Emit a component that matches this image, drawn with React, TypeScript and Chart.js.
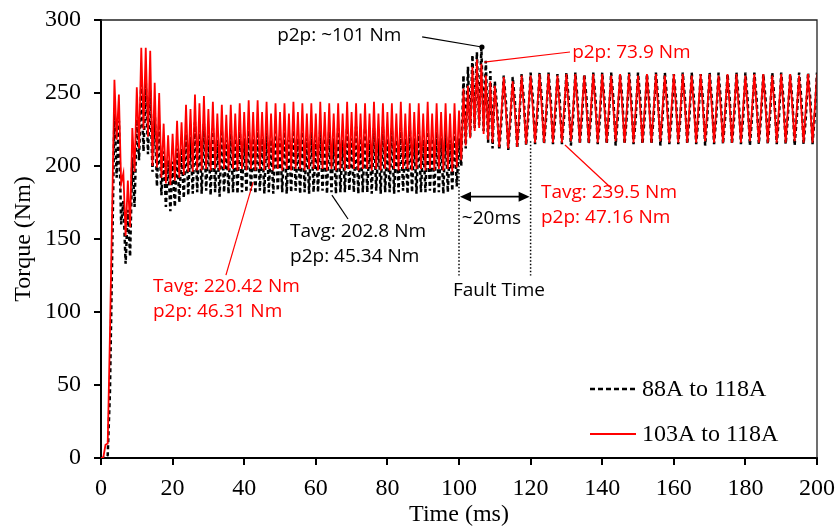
import React, { useEffect, useRef } from 'react';
import { Chart, registerables } from 'chart.js';

Chart.register(...registerables);

// ---------- data ----------
const SAMPLE_STEP_MS = 0.625;
const X_MIN = 0;
const X_MAX = 200;
const X_STEP = 20;
const Y_MIN = 0;
const Y_MAX = 300;
const Y_STEP = 50;

const SERIES_LABELS = ['88A to 118A', '103A to 118A'];

// 103A to 118A (red): 0 - 19.4 ms
const RED_STARTUP = [
  0, 0, 9, 10, 85, 170, 259, 218,
  249, 188, 195, 152, 190, 158, 226, 196,
  254, 212, 281, 225, 281, 220, 279, 200,
  257, 199, 250, 192, 229, 188, 221, 187,
];
// 20 - 99.4 ms
const RED_STEADY = [
  222, 190, 231, 192, 230, 194, 242, 196,
  239, 196, 249, 197, 243, 197, 248, 198,
  239, 197, 244, 198, 236, 197, 242, 198,
  235, 197, 242, 198, 236, 197, 243, 198,
  237, 197, 245, 198, 237, 197, 245, 198,
  237, 197, 244, 198, 236, 197, 243, 198,
  237, 197, 243, 198, 236, 197, 244, 198,
  237, 198, 243, 197, 236, 198, 243, 198,
  236, 197, 244, 198, 237, 197, 243, 198,
  236, 197, 243, 198, 236, 197, 244, 198,
  237, 198, 243, 197, 236, 198, 243, 198,
  236, 197, 244, 198, 236, 197, 243, 198,
  237, 197, 243, 198, 236, 197, 244, 198,
  236, 198, 243, 197, 237, 198, 243, 198,
  236, 197, 244, 198, 236, 197, 243, 198,
  237, 197, 243, 198, 236, 196, 243, 199,
];
// 100 - 200 ms
const RED_FAULT = [
  238, 204, 253, 214, 255, 219, 268, 224,
  273, 226, 270, 222, 262, 218, 258, 216,
  255, 235, 213, 237, 261, 237, 212, 236,
  258, 237, 213, 238, 262, 239, 215, 239,
  262, 239, 216, 240, 263, 240, 216, 239,
  263, 240, 216, 240, 262, 239, 216, 240,
  263, 240, 217, 239, 263, 240, 216, 240,
  262, 239, 216, 240, 263, 240, 216, 239,
  263, 240, 216, 240, 262, 239, 217, 240,
  263, 240, 216, 239, 263, 240, 216, 240,
  262, 239, 216, 240, 263, 240, 216, 239,
  263, 240, 217, 240, 262, 239, 216, 240,
  263, 240, 216, 239, 263, 240, 216, 240,
  262, 239, 216, 240, 263, 240, 217, 239,
  263, 240, 216, 240, 262, 239, 216, 240,
  263, 240, 216, 239, 263, 240, 216, 240,
  262, 239, 217, 240, 263, 240, 216, 239,
  263, 240, 216, 240, 262, 239, 216, 240,
  263, 240, 216, 239, 263, 240, 217, 240,
  262, 239, 216, 240, 263, 240, 216, 239,
  263,
];

// 88A to 118A (black dashed): 0 - 19.4 ms
const BLACK_STARTUP = [
  0, 0, 0, 2, 45, 140, 236, 192,
  231, 160, 176, 133, 170, 138, 206, 172,
  232, 204, 256, 210, 258, 208, 252, 196,
  238, 186, 229, 180, 210, 172, 204, 169,
];
// 20 - 99.4 ms
const BLACK_STEADY = [
  203, 172, 212, 175, 212, 178, 222, 180,
  220, 181, 230, 182, 225, 181, 229, 183,
  221, 180, 226, 182, 218, 179, 225, 182,
  218, 181, 225, 182, 219, 181, 226, 182,
  219, 182, 227, 183, 219, 181, 226, 183,
  219, 181, 226, 182, 218, 181, 226, 183,
  219, 182, 226, 181, 218, 182, 227, 183,
  219, 181, 226, 182, 219, 181, 226, 182,
  218, 182, 227, 183, 219, 181, 226, 182,
  219, 181, 226, 182, 218, 182, 226, 183,
  219, 182, 227, 181, 219, 182, 226, 182,
  218, 181, 226, 183, 219, 181, 227, 182,
  219, 182, 226, 181, 218, 182, 226, 183,
  219, 181, 227, 182, 219, 181, 226, 182,
  218, 182, 226, 183, 219, 181, 226, 182,
  219, 181, 227, 182, 218, 183, 226, 186,
];
// 100 - 200 ms
const BLACK_FAULT = [
  219, 200, 262, 212, 268, 220, 276, 226,
  278, 228, 281, 224, 272, 216, 265, 212,
  258, 240, 211, 232, 262, 243, 211, 231,
  261, 244, 212, 233, 263, 245, 214, 234,
  264, 246, 215, 234, 264, 246, 215, 234,
  264, 246, 215, 233, 263, 246, 215, 234,
  264, 246, 214, 234, 264, 245, 215, 234,
  263, 246, 215, 234, 264, 246, 215, 233,
  264, 245, 215, 234, 264, 246, 214, 234,
  263, 246, 215, 234, 264, 246, 215, 233,
  264, 246, 215, 234, 263, 245, 215, 234,
  264, 246, 214, 234, 264, 246, 215, 233,
  263, 245, 215, 234, 264, 246, 215, 234,
  264, 246, 215, 233, 263, 246, 214, 234,
  264, 246, 215, 234, 264, 245, 215, 234,
  263, 246, 215, 234, 264, 246, 215, 233,
  264, 245, 214, 234, 264, 246, 215, 234,
  263, 246, 215, 234, 264, 246, 215, 233,
  264, 246, 215, 234, 263, 245, 214, 234,
  264, 246, 215, 233, 264, 246, 215, 234,
  264,
];

const RED_VALUES = [...RED_STARTUP, ...RED_STEADY, ...RED_FAULT];
const BLACK_VALUES = [...BLACK_STARTUP, ...BLACK_STEADY, ...BLACK_FAULT];

// ---------- annotations (placed in data units) ----------
const RED = '#ff0000';
const BLACK = '#000000';

const NOTE_TEXTS = [
  { text: 'p2p: ~101 Nm', t: 49.2, v: 289.0, color: BLACK },
  { text: 'p2p: 73.9 Nm', t: 131.6, v: 277.4, color: RED },
  { text: 'Tavg: 202.8 Nm', t: 52.8, v: 154.8, color: BLACK },
  { text: 'p2p: 45.34 Nm', t: 52.8, v: 137.7, color: BLACK },
  { text: 'Tavg: 220.42 Nm', t: 14.5, v: 117.1, color: RED },
  { text: 'p2p: 46.31 Nm', t: 14.5, v: 100.0, color: RED },
  { text: 'Tavg: 239.5 Nm', t: 122.9, v: 181.5, color: RED },
  { text: 'p2p: 47.16 Nm', t: 122.9, v: 164.4, color: RED },
  { text: '~20ms', t: 100.8, v: 163.7, color: BLACK },
  { text: 'Fault Time', t: 98.3, v: 114.4, color: BLACK },
];

const LEADERS = [
  { from: [89.7, 288.4], to: [106.4, 281.5], color: BLACK, dot: true },
  { from: [107.0, 271.2], to: [131.0, 278.1], color: RED, dot: false },
  { from: [64.5, 180.1], to: [69.0, 163.7], color: BLACK, dot: false },
  { from: [42.5, 189.0], to: [34.9, 125.3], color: RED, dot: false },
  { from: [129.6, 214.4], to: [142.2, 185.6], color: RED, dot: false },
];

const FAULT_START = 100;
const FAULT_END = 120;
const FAULT_LINE_TOP = 217;
const FAULT_LINE_BOTTOM = 125;
const ARROW_LEVEL = 179;

const NOTE_FONT = '19px "Open Sans"';
const SERIF = '"Liberation Serif", "Times New Roman", serif';

const notesPlugin = {
  id: 'notes',
  beforeDatasetsDraw(chart: any) {
    const { ctx, scales } = chart;
    const xs = scales.x;
    const ys = scales.y;
    ctx.save();
    ctx.strokeStyle = BLACK;
    ctx.lineWidth = 1.5;
    ctx.setLineDash([1.5, 2]);
    [FAULT_START, FAULT_END].forEach((t) => {
      const x = xs.getPixelForValue(t);
      ctx.beginPath();
      ctx.moveTo(x, ys.getPixelForValue(FAULT_LINE_TOP));
      ctx.lineTo(x, ys.getPixelForValue(FAULT_LINE_BOTTOM));
      ctx.stroke();
    });
    ctx.restore();
  },
  afterDatasetsDraw(chart: any) {
    const { ctx, scales, chartArea } = chart;
    const xs = scales.x;
    const ys = scales.y;
    ctx.save();

    // frame (top & right)
    ctx.strokeStyle = '#222';
    ctx.lineWidth = 1.3;
    ctx.beginPath();
    ctx.moveTo(chartArea.left, chartArea.top);
    ctx.lineTo(chartArea.right, chartArea.top);
    ctx.lineTo(chartArea.right, chartArea.bottom);
    ctx.stroke();

    // leader lines
    LEADERS.forEach((l) => {
      const x1 = xs.getPixelForValue(l.from[0]);
      const y1 = ys.getPixelForValue(l.from[1]);
      const x2 = xs.getPixelForValue(l.to[0]);
      const y2 = ys.getPixelForValue(l.to[1]);
      ctx.strokeStyle = l.color;
      ctx.lineWidth = 1.2;
      ctx.beginPath();
      ctx.moveTo(x1, y1);
      ctx.lineTo(x2, y2);
      ctx.stroke();
      if (l.dot) {
        ctx.fillStyle = l.color;
        ctx.beginPath();
        ctx.arc(x2, y2, 2.6, 0, Math.PI * 2);
        ctx.fill();
      }
    });

    // double arrow
    const ax1 = xs.getPixelForValue(FAULT_START);
    const ax2 = xs.getPixelForValue(FAULT_END);
    const ay = ys.getPixelForValue(ARROW_LEVEL);
    ctx.strokeStyle = BLACK;
    ctx.fillStyle = BLACK;
    ctx.lineWidth = 1.6;
    ctx.beginPath();
    ctx.moveTo(ax1 + 6, ay);
    ctx.lineTo(ax2 - 6, ay);
    ctx.stroke();
    const head = (x: number, dir: number) => {
      ctx.beginPath();
      ctx.moveTo(x, ay);
      ctx.lineTo(x + dir * 11, ay - 5);
      ctx.lineTo(x + dir * 11, ay + 5);
      ctx.closePath();
      ctx.fill();
    };
    head(ax1 + 1, 1);
    head(ax2 - 1, -1);

    // texts
    ctx.font = NOTE_FONT;
    ctx.textBaseline = 'middle';
    ctx.textAlign = 'left';
    NOTE_TEXTS.forEach((n) => {
      ctx.fillStyle = n.color;
      ctx.fillText(n.text, xs.getPixelForValue(n.t), ys.getPixelForValue(n.v));
    });

    // legend (inside plot, bottom right)
    const lx1 = chartArea.right - 227;
    const lx2 = chartArea.right - 181;
    const rows = [
      { label: SERIES_LABELS[0], color: BLACK, dash: [5, 3], width: 2.5, y: chartArea.bottom - 69 },
      { label: SERIES_LABELS[1], color: RED, dash: [], width: 1.8, y: chartArea.bottom - 24 },
    ];
    rows.forEach((r) => {
      ctx.strokeStyle = r.color;
      ctx.lineWidth = r.width;
      ctx.setLineDash(r.dash);
      ctx.beginPath();
      ctx.moveTo(lx1, r.y);
      ctx.lineTo(lx2, r.y);
      ctx.stroke();
      ctx.setLineDash([]);
      ctx.fillStyle = BLACK;
      ctx.font = '24px ' + SERIF;
      ctx.textBaseline = 'middle';
      ctx.fillText(r.label, lx2 + 6, r.y + 1);
    });

    ctx.restore();
  },
};

export default function App() {
  const canvasRef = useRef<HTMLCanvasElement>(null);

  useEffect(() => {
    const canvas = canvasRef.current;
    if (!canvas) return;
    const blackPoints = BLACK_VALUES.map((y, i) => ({ x: i * SAMPLE_STEP_MS, y }));
    const redPoints = RED_VALUES.map((y, i) => ({ x: i * SAMPLE_STEP_MS, y }));

    const tickFont = { family: SERIF, size: 24 };

    const chart = new Chart(canvas, {
      type: 'line',
      data: {
        datasets: [
          {
            label: SERIES_LABELS[0],
            data: blackPoints,
            borderColor: BLACK,
            borderWidth: 2.5,
            borderDash: [4, 3],
            pointRadius: 0,
            tension: 0,
            order: 1,
          },
          {
            label: SERIES_LABELS[1],
            data: redPoints,
            borderColor: RED,
            borderWidth: 1.8,
            pointRadius: 0,
            tension: 0,
            order: 0,
          },
        ],
      },
      options: {
        responsive: false,
        devicePixelRatio: 1,
        animation: false,
        events: [],
        layout: { padding: { top: 20, right: 22, left: 0, bottom: 0 } },
        plugins: {
          legend: { display: false },
          tooltip: { enabled: false },
        },
        scales: {
          x: {
            type: 'linear',
            min: X_MIN,
            max: X_MAX,
            afterFit: (scale: any) => {
              scale.height = 70;
              scale.paddingLeft = 0;
              scale.paddingRight = 0;
            },
            ticks: {
              stepSize: X_STEP,
              color: BLACK,
              font: tickFont,
              padding: 9,
              maxRotation: 0,
            },
            grid: {
              drawOnChartArea: false,
              drawTicks: true,
              tickLength: 7,
              color: BLACK,
              lineWidth: 2,
            },
            border: { display: true, color: BLACK, width: 2 },
            title: {
              display: true,
              text: 'Time (ms)',
              color: BLACK,
              font: tickFont,
              padding: { top: 0, bottom: -1 },
            },
          },
          y: {
            type: 'linear',
            min: Y_MIN,
            max: Y_MAX,
            afterFit: (scale: any) => {
              scale.width = 101;
              scale.paddingTop = 0;
              scale.paddingBottom = 0;
            },
            ticks: {
              stepSize: Y_STEP,
              color: BLACK,
              font: tickFont,
              padding: 13,
            },
            grid: {
              drawOnChartArea: false,
              drawTicks: true,
              tickLength: 7,
              color: BLACK,
              lineWidth: 2,
            },
            border: { display: true, color: BLACK, width: 2 },
            title: {
              display: true,
              text: 'Torque (Nm)',
              color: BLACK,
              font: tickFont,
              padding: { top: 9, bottom: 0 },
            },
          },
        },
      },
      plugins: [notesPlugin],
    } as any);

    return () => chart.destroy();
  }, []);

  return (
    <div style={{ position: 'absolute', left: 0, top: 0, width: 839, height: 528, background: '#fff' }}>
      <canvas ref={canvasRef} width={839} height={528} style={{ display: 'block', width: 839, height: 528 }} />
    </div>
  );
}
